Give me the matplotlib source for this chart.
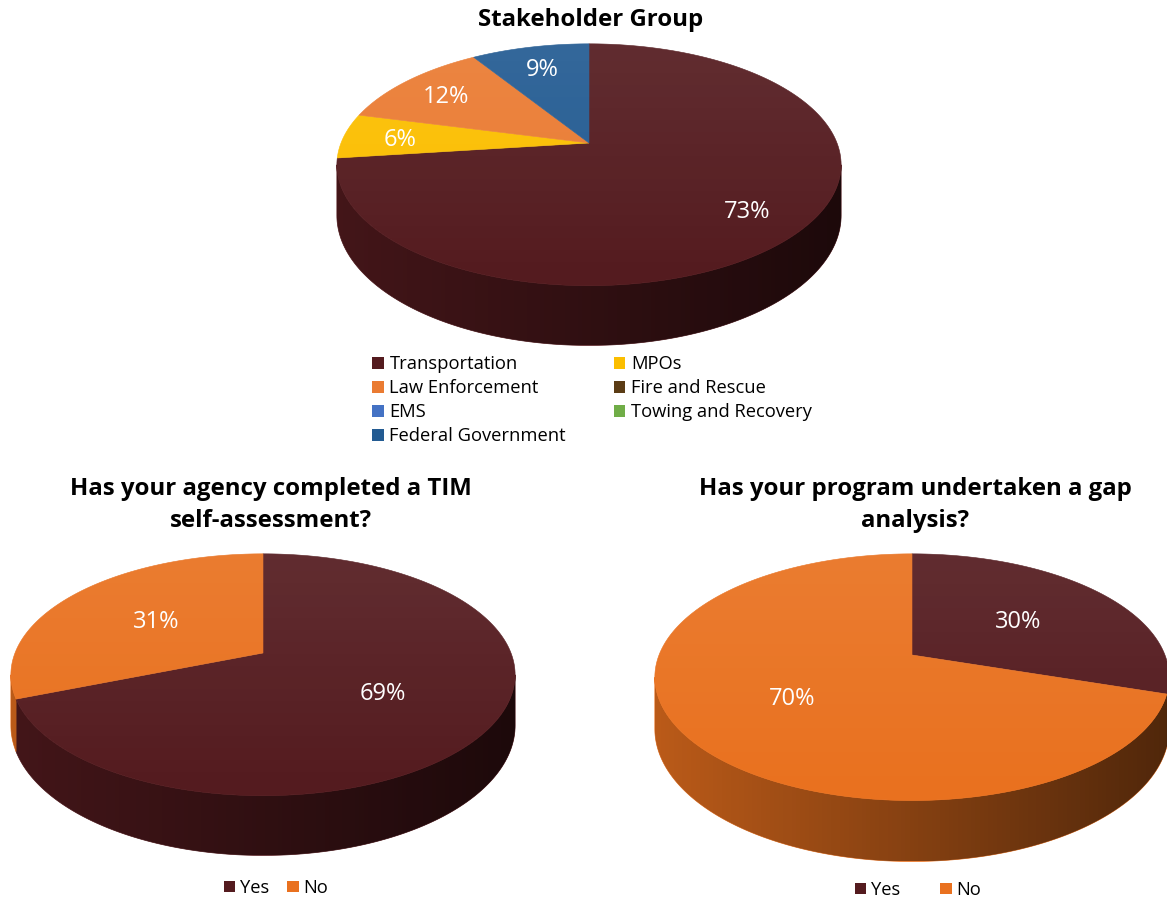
import numpy as np
import matplotlib
matplotlib.use("Agg")
import matplotlib.pyplot as plt
from matplotlib.patches import Polygon, Patch

plt.rcParams["font.family"] = ["Open Sans", "DejaVu Sans"]

# series in Excel order: slices run clockwise from 12 o'clock
group_labels = ["Transportation", "MPOs", "Law Enforcement", "Fire and Rescue",
                "EMS", "Towing and Recovery", "Federal Government"]
group_pct = [73, 6, 12, 0, 0, 0, 9]
group_colors = ["#541b1f", "#fbbe00", "#ea7b32", "#5b3c15", "#4472c4", "#70ad47", "#235b92"]

answer_labels = ["Yes", "No"]
self_assess_pct = [69, 31]
gap_analysis_pct = [30, 70]
answer_colors = ["#541b1f", "#e9711f"]

W, H = 1167, 901
K = 0.18            # perspective foreshortening of the tilted disc
RX, RY, DEPTH = 248, 117, 49


def project(theta, r=1.0, z=0.0, scale=1.0):
    c, s = np.cos(theta), np.sin(theta)
    p = 1.0 / (1.0 + K * r * c)
    return RX * scale * r * s * p, (RY * r * c - DEPTH * z) * scale * p


def pixel_axes(fig, box, vertex):
    # axes where one data unit is one pixel, origin at the pie vertex, y up
    x0, y0, x1, y1 = box
    cx, cy = vertex
    ax = fig.add_axes([x0 / W, 1 - y1 / H, (x1 - x0) / W, (y1 - y0) / H])
    ax.set_xlim(x0 - cx, x1 - cx)
    ax.set_ylim(cy - y1, cy - y0)
    ax.axis("off")
    return ax


def shade_overlay(ax, pts, rgb, alpha, horizontal, z):
    clip = Polygon(pts, closed=True, fc="none", ec="none")
    ax.add_patch(clip)
    pts = np.asarray(pts)
    if horizontal:
        g = np.zeros((2, 200, 4))
        g[..., 3] = np.asarray(alpha)[None, :]
    else:
        g = np.zeros((200, 2, 4))
        g[..., 3] = np.asarray(alpha)[:, None]
    g[..., :3] = rgb
    im = ax.imshow(g, extent=(pts[:, 0].min(), pts[:, 0].max(), pts[:, 1].min(), pts[:, 1].max()),
                   origin="upper", aspect="auto", interpolation="bilinear", zorder=z)
    im.set_clip_path(clip)


def draw_pie(ax, values, colors, scale=1.0, label_r=0.6, label_size=17):
    xl, yl = ax.get_xlim(), ax.get_ylim()
    fr = np.array(values, float) / sum(values)
    edges = np.concatenate([[0], np.cumsum(fr)]) * 2 * np.pi

    # front wall: the part between the two horizontal extremes of the rim
    t0, t1 = np.arccos(-K), 2 * np.pi - np.arccos(-K)
    for i, v in enumerate(values):
        a, b = max(edges[i], t0), min(edges[i + 1], t1)
        if v <= 0 or b <= a:
            continue
        tt = np.linspace(a, b, max(3, int(200 * (b - a) / np.pi)))
        tx, ty = project(tt, scale=scale)
        bx, by = project(tt[::-1], z=1, scale=scale)
        pts = list(zip(tx, ty)) + list(zip(bx, by))
        ax.add_patch(Polygon(pts, closed=True, fc=colors[i], ec=colors[i], lw=0.5, zorder=1))
    tt = np.linspace(t0, t1, 200)
    tx, ty = project(tt, scale=scale)
    bx, by = project(tt[::-1], z=1, scale=scale)
    wall = list(zip(tx, ty)) + list(zip(bx, by))
    shade_overlay(ax, wall, (0, 0, 0), np.linspace(0.2, 0.66, 200), True, 1.5)

    # top face
    for i, v in enumerate(values):
        if v <= 0:
            continue
        tt = np.linspace(edges[i], edges[i + 1], max(3, int(300 * fr[i])))
        px, py = project(tt, scale=scale)
        pts = [(0, 0)] + list(zip(px, py))
        ax.add_patch(Polygon(pts, closed=True, fc=colors[i], ec=colors[i], lw=0.4, zorder=2))
    tt = np.linspace(0, 2 * np.pi, 361)
    px, py = project(tt, scale=scale)
    shade_overlay(ax, list(zip(px, py)), (1, 1, 1), np.linspace(0.08, 0.0, 200) ** 1, False, 2.5)

    # data labels
    for i, v in enumerate(values):
        if v <= 0:
            continue
        mid = (edges[i] + edges[i + 1]) / 2
        lx, ly = project(mid, r=label_r, scale=scale)
        ax.text(lx, ly, f"{v}%", color="white", fontsize=label_size,
                ha="center", va="center_baseline", zorder=3)
    ax.set_xlim(xl)
    ax.set_ylim(yl)


fig = plt.figure(figsize=(W / 100, H / 100), dpi=100)
leg_kw = dict(frameon=False, fontsize=13.2, handlelength=0.62, handleheight=0.62,
              borderpad=0)

# --- Stakeholder Group ---
ax1 = pixel_axes(fig, (300, 30, 880, 355), (589, 143))
draw_pie(ax1, group_pct, group_colors, label_r=0.77)
fig.text(591 / W, 1 - 20 / H, "Stakeholder Group", ha="center", va="center",
         fontsize=17.3, fontweight="bold")
order = list(range(0, len(group_labels), 2)) + list(range(1, len(group_labels), 2))
handles = [Patch(fc=group_colors[i], ec="none", label=group_labels[i]) for i in order]
fig.legend(handles=handles, ncol=2, loc="upper left",
           bbox_to_anchor=(363 / W, 1 - 346 / H), handletextpad=0.32,
           labelspacing=0.33, columnspacing=2.6, **leg_kw)

# --- TIM self-assessment ---
ax2 = pixel_axes(fig, (0, 545, 540, 870), (263, 653))
draw_pie(ax2, self_assess_pct, answer_colors, label_r=0.55)
fig.text(271 / W, 1 - 505 / H, "Has your agency completed a TIM\nself-assessment?",
         ha="center", va="center", fontsize=17.3, fontweight="bold", linespacing=1.45)
fig.legend(handles=[Patch(fc=c, ec="none", label=l) for c, l in zip(answer_colors, answer_labels)],
           ncol=2, loc="center", bbox_to_anchor=(276 / W, 1 - 888 / H),
           handletextpad=0.25, columnspacing=1.0, **leg_kw)

# --- gap analysis ---
ax3 = pixel_axes(fig, (630, 545, 1167, 875), (912, 655))
draw_pie(ax3, gap_analysis_pct, answer_colors, scale=1.02, label_r=0.55)
fig.text(915 / W, 1 - 505 / H, "Has your program undertaken a gap\nanalysis?",
         ha="center", va="center", fontsize=17.3, fontweight="bold", linespacing=1.45)
fig.legend(handles=[Patch(fc=c, ec="none", label=l) for c, l in zip(answer_colors, answer_labels)],
           ncol=2, loc="center", bbox_to_anchor=(918 / W, 1 - 890 / H),
           handletextpad=0.25, columnspacing=2.2, **leg_kw)

fig.savefig("out.png", dpi=100)
